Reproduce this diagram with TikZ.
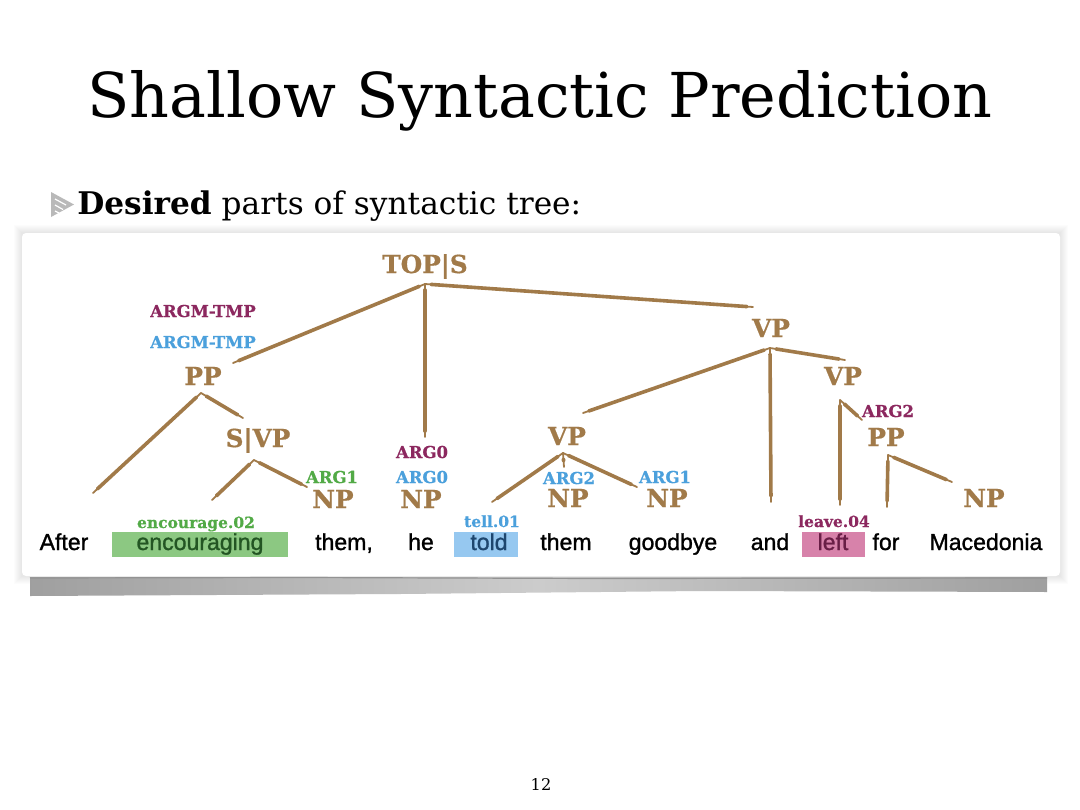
\documentclass[tikz,border=0pt]{standalone}
\usepackage{fontspec}
\setmainfont{DejaVu Serif}
\newfontfamily\wordfont[FakeBold=1.2]{Liberation Sans}
\newfontfamily\labfont[FakeBold=0.6]{DejaVu Serif Bold}
\newdimen\px \px=0.025cm
\definecolor{brn}{RGB}{161,122,73}
\definecolor{prp}{RGB}{140,40,95}
\definecolor{blu}{RGB}{75,160,220}
\definecolor{grn}{RGB}{82,170,70}
\definecolor{hlgrn}{RGB}{140,200,130}
\definecolor{hlblu}{RGB}{150,200,240}
\definecolor{hlpnk}{RGB}{215,130,170}
\definecolor{txgrn}{RGB}{35,85,35}
\definecolor{txblu}{RGB}{30,70,110}
\definecolor{txpnk}{RGB}{105,30,70}
\begin{document}
\begin{tikzpicture}[x=0.025cm,y=-0.025cm,
  cat/.style={font=\labfont\fontsize{17.6}{20}\selectfont, text=brn, anchor=base, inner sep=0pt},
  role/.style={font=\labfont\fontsize{11.7}{14}\selectfont, anchor=base, inner sep=0pt},
  sense/.style={font=\labfont\fontsize{11}{13}\selectfont, anchor=base, inner sep=0pt},
  word/.style={font=\wordfont\fontsize{16.4}{19}\selectfont, anchor=base, inner sep=0pt},
  edge/.style={draw=brn, line width=3.6\px, line cap=round, shorten >=6\px, shorten <=6\px,
    preaction={draw=brn, line width=1.8\px, line cap=round, shorten >=0pt, shorten <=0pt}},
]
\useasboundingbox (0,0) rectangle (1080,810);
\fill[white] (0,0) rectangle (1080,810);

% title and bullet
\node[anchor=base, inner sep=0pt, font=\fontsize{44}{50}\selectfont] (title) at (540,117) {Shallow Syntactic Prediction};
\fill[gray!55] (51,192) -- (74,204.5) -- (51,217) -- cycle;
\draw[white, line width=1.2\px] (55,199) -- (66,205) (55,205) -- (63,209.5) (55,211) -- (59,213);
\node[anchor=base west, inner sep=0pt, font=\fontsize{22.2}{26}\selectfont] (bullet) at (77,214) {\textbf{Desired} parts of syntactic tree:};

% panel with soft shadow
\foreach \i in {1,...,8} {
  \fill[black, opacity=0.01] ({22-\i},{233-\i}) rectangle ({1060+\i},{576+\i});
}
\fill[white, rounded corners=4\px] (22,233) rectangle (1060,576);
\shade[left color=gray!75, right color=gray!75, middle color=gray!40]
  (30,577) -- (1047,577) -- (1047,592) -- (700,591) -- (400,594) -- (30,596) -- cycle;
\draw[gray!85, line width=1.2\px] (30,578) -- (300,577.5) -- (600,578.5) -- (1047,578);

% page number
\node[anchor=base, inner sep=0pt, font=\fontsize{11.5}{13}\selectfont] (pagenum) at (541,790) {12};

% highlights
\fill[hlgrn] (112,532) rectangle (288,557);
\fill[hlblu] (454,532) rectangle (518,557);
\fill[hlpnk] (802,532) rectangle (865,557);

% words
\node[word] (wAfter) at (64,550) {After};
\node[word, text=txgrn] (wEnc) at (200,550) {encouraging};
\node[word] (wThem1) at (344,550) {them,};
\node[word] (wHe) at (421,550) {he};
\node[word, text=txblu] (wTold) at (489,550) {told};
\node[word] (wThem2) at (566,550) {them};
\node[word] (wGoodbye) at (673,550) {goodbye};
\node[word] (wAnd) at (770,550) {and};
\node[word, text=txpnk] (wLeft) at (833,550) {left};
\node[word] (wFor) at (886,550) {for};
\node[word] (wMac) at (986,550) {Macedonia};

% sense labels
\node[sense, text=grn] (sEnc) at (196,528) {encourage.02};
\node[sense, text=blu] (sTell) at (492,527) {tell.01};
\node[sense, text=prp] (sLeave) at (834,527) {leave.04};

% categories
\node[cat] (tops) at (425,273) {TOP|S};
\node[cat] (pp) at (203,385) {PP};
\node[cat] (svp) at (258,447) {S|VP};
\node[cat] (np1) at (333,508) {NP};
\node[cat] (np2) at (421,508) {NP};
\node[cat] (vp1) at (771,337) {VP};
\node[cat] (vp2) at (567,445) {VP};
\node[cat] (np3) at (568,507) {NP};
\node[cat] (np4) at (667,507) {NP};
\node[cat] (vp3) at (843,385) {VP};
\node[cat] (pp2) at (886,446) {PP};
\node[cat] (np5) at (984,507) {NP};

% role labels
\node[role, text=prp] (rTmpP) at (203,317) {ARGM-TMP};
\node[role, text=blu] (rTmpB) at (203,348) {ARGM-TMP};
\node[role, text=grn] (rArg1g) at (332,483) {ARG1};
\node[role, text=prp] (rArg0p) at (422,458) {ARG0};
\node[role, text=blu] (rArg0b) at (422,483) {ARG0};
\node[role, text=blu] (rArg2b) at (569,484) {ARG2};
\node[role, text=blu] (rArg1b) at (665,483) {ARG1};
\node[role, text=prp] (rArg2p) at (888,417) {ARG2};

% connector end points
\coordinate (tops-j) at (425,284);
\coordinate (pp-in) at (233,363);
\coordinate (pp-j) at (201,393);
\coordinate (np2-in) at (425,437);
\coordinate (vp1-in) at (753,307);
\coordinate (vp1-j) at (770,348);
\coordinate (svp-in) at (243,418);
\coordinate (svp-j) at (254,460);
\coordinate (after-in) at (93,493);
\coordinate (enc-in) at (212,500);
\coordinate (np1-in) at (307,487);
\coordinate (vp2-in) at (583,413);
\coordinate (vp2-j) at (563,453);
\coordinate (and-in) at (771,502);
\coordinate (vp3-in) at (845,360);
\coordinate (vp3-j) at (840,400);
\coordinate (left-in) at (840,505);
\coordinate (pp2-in) at (862,420);
\coordinate (pp2-j) at (888,455);
\coordinate (for-in) at (887,507);
\coordinate (np5-in) at (952,482);
\coordinate (told-in) at (492,502);
\coordinate (np3-in) at (564,467);
\coordinate (np4-in) at (637,487);

% connectors
\draw[edge] (tops-j) -- (pp-in);
\draw[edge] (tops-j) -- (np2-in);
\draw[edge] (tops-j) -- (vp1-in);
\draw[edge] (pp-j) -- (after-in);
\draw[edge] (pp-j) -- (svp-in);
\draw[edge] (svp-j) -- (enc-in);
\draw[edge] (svp-j) -- (np1-in);
\draw[edge] (vp1-j) -- (vp2-in);
\draw[edge] (vp1-j) -- (and-in);
\draw[edge] (vp1-j) -- (vp3-in);
\draw[edge] (vp3-j) -- (left-in);
\draw[edge] (vp3-j) -- (pp2-in);
\draw[edge] (pp2-j) -- (for-in);
\draw[edge] (pp2-j) -- (np5-in);
\draw[edge] (vp2-j) -- (told-in);
\draw[edge] (vp2-j) -- (np3-in);
\draw[edge] (vp2-j) -- (np4-in);
\end{tikzpicture}
\end{document}
